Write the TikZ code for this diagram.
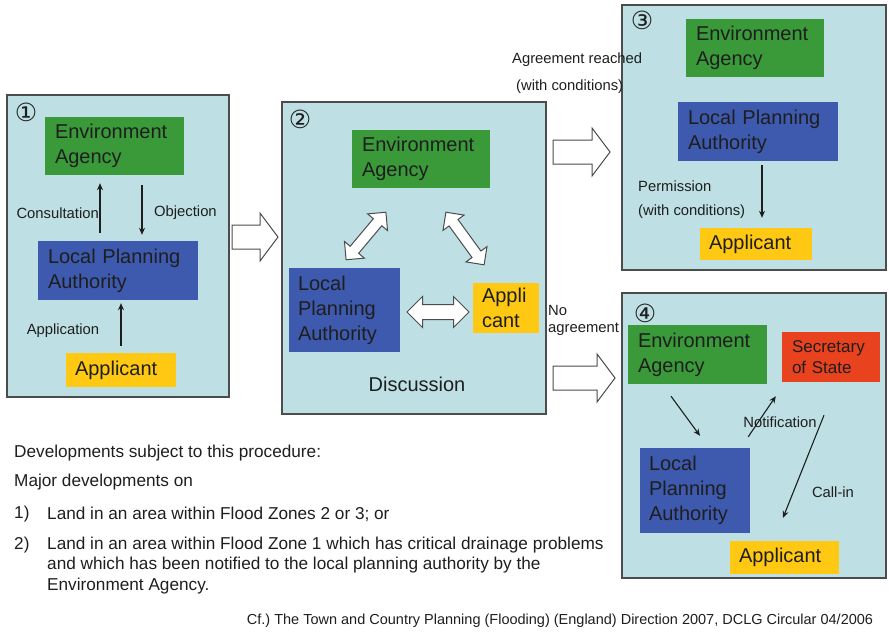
\documentclass[tikz,border=0pt]{standalone}
\usepackage{fontspec}
\setmainfont{Liberation Sans}
\newfontfamily\symfont{DejaVu Sans}
\usepackage{tikz}
\usetikzlibrary{shapes.arrows}
\usetikzlibrary{arrows.meta, positioning, calc}

\definecolor{panelcol}{RGB}{190,224,228}
\definecolor{eagreen}{RGB}{58,154,58}
\definecolor{lpablue}{RGB}{61,90,175}
\definecolor{appyellow}{RGB}{255,200,18}
\definecolor{sosred}{RGB}{232,66,30}
\definecolor{inkcol}{RGB}{30,30,30}

\tikzset{
    panel/.style={draw=gray!60!black, fill=panelcol, line width=1.2pt, inner sep=0pt},
    orgbox/.style={rectangle, align=left, inner xsep=10pt, inner ysep=0pt, text=inkcol,
        font=\fontsize{20}{25}\selectfont},
    smalltext/.style={text=inkcol, font=\fontsize{14.8}{17}\selectfont, inner sep=0pt},
    bodytext/.style={text=inkcol, font=\fontsize{17.2}{20}\selectfont, inner sep=0pt, anchor=west},
    num/.style={text=inkcol, font=\symfont\fontsize{25}{25}\selectfont, inner sep=0pt},
    flow/.style={draw=inkcol, line width=1.1pt, -{Stealth[length=7pt, width=6pt]}},
    hollow/.style={draw=gray!60!black, fill=white, line width=1pt},
    dblarrow/.style={double arrow, draw=gray!60!black, fill=white, line width=1pt,
        inner xsep=0pt, inner ysep=5pt, double arrow head extend=7.5pt}
}

% big hollow arrow: start point (left, middle) and length
\newcommand{\bigarrow}[2]{
    \draw[hollow] (#1) ++(0,-12) -- ++({#2-18},0) -- ++(0,-12) -- ++(18,24)
        -- ++(-18,24) -- ++(0,-12) -- ++({-(#2-18)},0) -- cycle;
}

\begin{document}
\begin{tikzpicture}[x=1pt, y=-1pt]
    \useasboundingbox (0,0) rectangle (889,635);

    % Panels
    \node[panel, minimum width=222pt, minimum height=302pt] (p1) at (118,246) {};
    \node[panel, minimum width=264pt, minimum height=312pt] (p2) at (414,258) {};
    \node[panel, minimum width=264pt, minimum height=265pt] (p3) at (754,137.5) {};
    \node[panel, minimum width=264pt, minimum height=285pt] (p4) at (754,435.5) {};

    % Panel numbers
    \node[num] (n1) at (26,112) {①};
    \node[num] (n2) at (300,119) {②};
    \node[num] (n3) at (642,20) {③};
    \node[num] (n4) at (645,313) {④};

    % Panel 1: consultation
    \node[orgbox, fill=eagreen, text width=119pt, minimum height=58pt] (ea1) at (114.5,146) {Environment\\Agency};
    \node[orgbox, fill=lpablue, text width=140pt, minimum height=59pt] (lpa1) at (118,270.5) {Local Planning\\Authority};
    \node[orgbox, fill=appyellow, inner xsep=9pt, text width=92pt, minimum height=34pt] (appl1) at (121,370) {Applicant};

    \draw[flow, shorten <=8pt, shorten >=8pt] ([xshift=-18pt]lpa1.north) -- ([xshift=-18pt]lpa1.north |- ea1.south);
    \draw[flow, shorten <=10pt, shorten >=6pt] ([xshift=24pt]lpa1.north |- ea1.south) -- ([xshift=24pt]lpa1.north);
    \draw[flow, shorten <=7pt, shorten >=3pt] ([xshift=3pt]lpa1.south |- appl1.north) -- ([xshift=3pt]lpa1.south);
    \node[smalltext, anchor=east] (consult) at (99,213) {Consultation};
    \node[smalltext, anchor=west] (object) at (154,213) {Objection};
    \node[smalltext] (apply) at (63,331) {Application};

    % Panel 2: discussion
    \node[orgbox, fill=eagreen, text width=118pt, minimum height=58pt] (ea2) at (421,159) {Environment\\Agency};
    \node[orgbox, fill=lpablue, inner xsep=9pt, text width=93pt, minimum height=84pt] (lpa2) at (344.5,310) {Local\\Planning\\Authority};
    \node[orgbox, fill=appyellow, inner xsep=9pt, text width=48pt, minimum height=50pt] (appl2) at (506,308) {Appli\\cant};
    \node[orgbox, inner sep=0pt] (discuss) at (417,384) {Discussion};

    \node[dblarrow, minimum height=62pt, rotate=50] (d1) at (366,236) {};
    \node[dblarrow, minimum height=65pt, rotate=-54] (d2) at (465,238.5) {};
    \node[dblarrow, minimum height=62pt, inner ysep=7pt, double arrow head extend=8pt] (d3) at (438,312) {};

    % Panel 3: agreement reached
    \node[orgbox, fill=eagreen, text width=118pt, minimum height=58pt] (ea3) at (755,48) {Environment\\Agency};
    \node[orgbox, fill=lpablue, text width=140pt, minimum height=59pt] (lpa3) at (758,131.5) {Local Planning\\Authority};
    \node[orgbox, fill=appyellow, inner xsep=9pt, text width=94pt, minimum height=32pt] (appl3) at (756,244) {Applicant};

    \draw[flow, shorten <=4pt, shorten >=10pt] ([xshift=4pt]lpa3.south) -- ([xshift=4pt]lpa3.south |- appl3.north);
    \node[smalltext, anchor=west] (perm) at (638,186) {Permission};
    \node[smalltext, anchor=west] (permcond) at (638,212) {(with conditions)};

    % Panel 4: no agreement
    \node[orgbox, fill=eagreen, text width=119pt, minimum height=59pt] (ea4) at (697.5,354.5) {Environment\\Agency};
    \node[orgbox, fill=sosred, text width=78pt, minimum height=50pt,
        font=\fontsize{17}{21}\selectfont] (sos) at (831,357) {Secretary\\of State};
    \node[orgbox, fill=lpablue, inner xsep=9pt, text width=92pt, minimum height=85pt] (lpa4) at (695,490.5) {Local\\Planning\\Authority};
    \node[orgbox, fill=appyellow, inner xsep=9pt, text width=91pt, minimum height=33pt] (appl4) at (784.5,557.5) {Applicant};

    \draw[flow] ([shift={(-26.5,12)}]ea4.south) -- ([shift={(5,-12)}]lpa4.north);
    \draw[flow] ([shift={(-2,-11)}]lpa4.north east) -- ([shift={(-6,14)}]sos.south west);
    \draw[flow] ([shift={(-7,33)}]sos.south) -- ([shift={(-1.5,-23)}]appl4.north);
    \node[smalltext] (notify) at (780,422) {Notification};
    \node[smalltext] (callin) at (833,492) {Call-in};

    % Arrows between panels
    \coordinate (a12) at (232,237);
    \coordinate (a23) at (553,152);
    \coordinate (a24) at (553,378);
    \bigarrow{a12}{46}
    \bigarrow{a23}{57}
    \bigarrow{a24}{62}
    \node[smalltext, anchor=west] (agree) at (512,60) {Agreement reached};
    \node[smalltext, anchor=west] (agreecond) at (516,87) {(with conditions)};
    \node[smalltext, anchor=west] (noagree) at (548,310) {No};
    \node[smalltext, anchor=west] (noagree2) at (548,329) {agreement};

    % Notes
    \node[bodytext] (dev) at (14,453) {Developments subject to this procedure:};
    \node[bodytext] (major) at (14,482) {Major developments on};
    \node[bodytext] (i1) at (14,514) {1)};
    \node[bodytext] (l1) at (47,514) {Land in an area within Flood Zones 2 or 3; or};
    \node[bodytext] (i2) at (14,545) {2)};
    \node[bodytext] (l2a) at (47,545) {Land in an area within Flood Zone 1 which has critical drainage problems};
    \node[bodytext] (l2b) at (47,565.5) {and which has been notified to the local planning authority by the};
    \node[bodytext] (l2c) at (47,586) {Environment Agency.};
    \node[bodytext, anchor=center, font=\fontsize{14.5}{17}\selectfont] (cite) at (560,621) {Cf.)\ The Town and Country Planning (Flooding) (England) Direction 2007, DCLG Circular 04/2006};
\end{tikzpicture}
\end{document}
